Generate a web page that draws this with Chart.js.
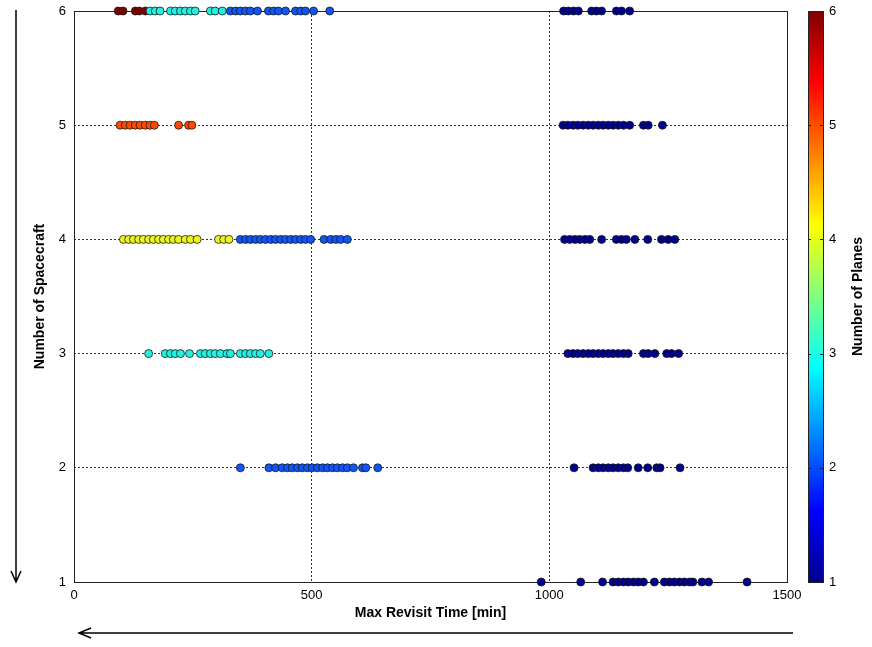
<!DOCTYPE html>
<html>
<head>
<meta charset="utf-8">
<script src="https://cdn.jsdelivr.net/npm/chart.js@4.4.1/dist/chart.umd.min.js"></script>
<style>
  html, body { margin: 0; padding: 0; background: #fff; }
  canvas { display: block; }
</style>
</head>
<body>
<canvas id="c" width="872" height="647"></canvas>
<script>
// Max revisit time [min] of each design, grouped by spacecraft count and number of planes
const sc6_planes6 = [93, 103, 129, 137, 150];
const sc6_planes3 = [160, 171, 181, 203, 213, 224, 234, 245, 255, 287, 297, 312];
const sc6_planes2 = [329, 340, 350, 361, 371, 386, 409, 420, 430, 445, 466, 477, 487, 504, 538];
const sc6_planes1 = [1030, 1040, 1051, 1061, 1089, 1099, 1110, 1141, 1152, 1169];

const sc5_planes5 = [97, 108, 118, 129, 139, 150, 160, 169, 220, 241, 248];
const sc5_planes1 = [1029, 1039, 1050, 1060, 1071, 1082, 1092, 1103, 1113, 1124, 1134, 1145, 1156, 1169, 1198, 1208, 1238];

const sc4_planes4 = [104, 115, 125, 136, 146, 157, 167, 178, 188, 199, 209, 220, 234, 245, 259, 304, 315, 326];
const sc4_planes2 = [350, 361, 371, 382, 392, 403, 414, 424, 435, 445, 456, 466, 477, 487, 498, 526, 540, 551, 561, 575];
const sc4_planes1 = [1032, 1043, 1054, 1064, 1075, 1085, 1110, 1141, 1152, 1162, 1180, 1207, 1236, 1250, 1264];

const sc3_planes3 = [157, 192, 203, 213, 224, 243, 266, 276, 287, 297, 308, 322, 329, 350, 361, 371, 382, 392, 410];
const sc3_planes1 = [1039, 1050, 1060, 1071, 1082, 1092, 1103, 1113, 1124, 1134, 1145, 1156, 1166, 1198, 1208, 1222, 1247, 1257, 1272];

const sc2_planes2 = [350, 410, 424, 438, 449, 459, 470, 480, 491, 501, 512, 523, 533, 544, 554, 565, 575, 588, 607, 614, 639];
const sc2_planes1 = [1052, 1092, 1103, 1113, 1124, 1134, 1145, 1156, 1165, 1187, 1207, 1226, 1233, 1275];

const sc1_planes1 = [983, 1066, 1112, 1134, 1145, 1156, 1166, 1177, 1187, 1198, 1221, 1242, 1253, 1263, 1274, 1284, 1295, 1302, 1321, 1335, 1416];

// Axis ticks
const xTicks = [0, 500, 1000, 1500];
const yTicks = [1, 2, 3, 4, 5, 6];
const planeTicks = [1, 2, 3, 4, 5, 6];

// Groups: [spacecraft, planes, times]
const groups = [
  [6, 6, sc6_planes6], [6, 3, sc6_planes3], [6, 2, sc6_planes2], [6, 1, sc6_planes1],
  [5, 5, sc5_planes5], [5, 1, sc5_planes1],
  [4, 4, sc4_planes4], [4, 2, sc4_planes2], [4, 1, sc4_planes1],
  [3, 3, sc3_planes3], [3, 1, sc3_planes1],
  [2, 2, sc2_planes2], [2, 1, sc2_planes1],
  [1, 1, sc1_planes1]
];

// Jet colours for 1..6 planes
const planeColors = {
  1: '#00008f',
  2: '#0f55f8',
  3: '#22f0e0',
  4: '#eaf51a',
  5: '#ff4a00',
  6: '#800000'
};

const datasets = [1, 2, 3, 4, 5, 6].map(p => {
  const pts = [];
  groups.forEach(([sc, planes, times]) => {
    if (planes === p) times.forEach(t => pts.push({ x: t, y: sc }));
  });
  return {
    label: p + ' planes',
    data: pts,
    backgroundColor: planeColors[p],
    borderColor: '#1a1a1a',
    borderWidth: 0.8,
    pointRadius: 4,
    clip: false
  };
});

const FONT = '"Liberation Sans", Arial, sans-serif';

const noPad = s => { s.paddingTop = 0; s.paddingBottom = 0; s.paddingLeft = 0; s.paddingRight = 0; };

const decorations = {
  id: 'decorations',
  beforeDatasetsDraw(chart) {
    const { ctx, chartArea: a } = chart;
    ctx.save();
    ctx.strokeStyle = '#222';
    ctx.lineWidth = 1;
    ctx.strokeRect(a.left + 0.5, a.top + 0.5, a.right - a.left, a.bottom - a.top);
    ctx.restore();
  },
  afterDraw(chart) {
    const { ctx, chartArea: a } = chart;
    const cb = chart.scales.cb;
    ctx.save();

    // Colour bar
    const bx = 808, bw = 15;
    const yTop = cb.getPixelForValue(6), yBot = cb.getPixelForValue(1);
    const g = ctx.createLinearGradient(0, yBot, 0, yTop);
    g.addColorStop(0, '#00008f');
    g.addColorStop(0.125, '#0000ff');
    g.addColorStop(0.375, '#00ffff');
    g.addColorStop(0.625, '#ffff00');
    g.addColorStop(0.875, '#ff0000');
    g.addColorStop(1, '#800000');
    ctx.fillStyle = g;
    ctx.fillRect(bx, yTop, bw, yBot - yTop);
    ctx.strokeStyle = '#222';
    ctx.lineWidth = 1;
    ctx.strokeRect(bx + 0.5, yTop + 0.5, bw, yBot - yTop);
    ctx.fillStyle = '#000';
    ctx.font = '13px ' + FONT;
    ctx.textAlign = 'left';
    ctx.textBaseline = 'middle';
    planeTicks.forEach(v => {
      const yp = cb.getPixelForValue(v);
      const y = Math.round(yp) + 0.5;
      ctx.beginPath();
      ctx.moveTo(bx, y); ctx.lineTo(bx + 3, y);
      ctx.moveTo(bx + bw, y); ctx.lineTo(bx + bw - 3, y);
      ctx.stroke();
      ctx.fillText(String(v), 829, yp);
    });

    // Axis titles
    ctx.fillStyle = '#000';
    ctx.font = 'bold 14px ' + FONT;
    ctx.textAlign = 'center';
    ctx.textBaseline = 'middle';
    ctx.fillText('Max Revisit Time [min]', (a.left + a.right) / 2, 613);

    ctx.save();
    ctx.translate(40, (a.top + a.bottom) / 2);
    ctx.rotate(-Math.PI / 2);
    ctx.fillText('Number of Spacecraft', 0, 0);
    ctx.restore();

    ctx.save();
    ctx.translate(858, (a.top + a.bottom) / 2);
    ctx.rotate(-Math.PI / 2);
    ctx.fillText('Number of Planes', 0, 0);
    ctx.restore();

    // Direction arrows
    ctx.strokeStyle = '#000';
    ctx.lineWidth = 1.5;
    ctx.beginPath();
    ctx.moveTo(16, 10); ctx.lineTo(16, 582);
    ctx.moveTo(11, 571); ctx.lineTo(16, 582); ctx.lineTo(21, 571);
    ctx.stroke();

    ctx.beginPath();
    ctx.moveTo(793, 633); ctx.lineTo(79, 633);
    ctx.moveTo(91, 628); ctx.lineTo(79, 633); ctx.lineTo(91, 638);
    ctx.stroke();

    ctx.restore();
  }
};

new Chart(document.getElementById('c'), {
  type: 'scatter',
  data: { datasets },
  options: {
    responsive: false,
    animation: false,
    events: [],
    layout: { padding: { top: 11, left: 0, right: 0, bottom: 0 }, autoPadding: false },
    plugins: { legend: { display: false }, tooltip: { enabled: false } },
    scales: {
      x: {
        type: 'linear',
        min: 0, max: 1500,
        afterBuildTicks: s => { s.ticks = xTicks.map(v => ({ value: v })); },
        afterFit: s => { s.height = 65; noPad(s); },
        ticks: { font: { family: FONT, size: 13 }, color: '#000', padding: 6, callback: v => String(v) },
        grid: {
          drawTicks: false,
          color: c => (c.tick && (c.tick.value === 500 || c.tick.value === 1000)) ? '#333' : 'rgba(0,0,0,0)',
          lineWidth: 1
        },
        border: { display: false, dash: [2, 2] }
      },
      y: {
        type: 'linear',
        min: 1, max: 6,
        afterBuildTicks: s => { s.ticks = yTicks.map(v => ({ value: v })); },
        afterFit: s => { s.width = 74; noPad(s); },
        ticks: { font: { family: FONT, size: 13 }, color: '#000', padding: 8, callback: v => String(v) },
        grid: {
          drawTicks: false,
          color: c => (c.tick && c.tick.value > 1 && c.tick.value < 6) ? '#333' : 'rgba(0,0,0,0)',
          lineWidth: 1
        },
        border: { display: false, dash: [2, 2] }
      },
      cb: {
        type: 'linear',
        position: 'right',
        min: 1, max: 6,
        afterFit: s => { s.width = 85; noPad(s); },
        ticks: { display: false },
        grid: { display: false, drawTicks: false },
        border: { display: false }
      }
    }
  },
  plugins: [decorations]
});
</script>
</body>
</html>
